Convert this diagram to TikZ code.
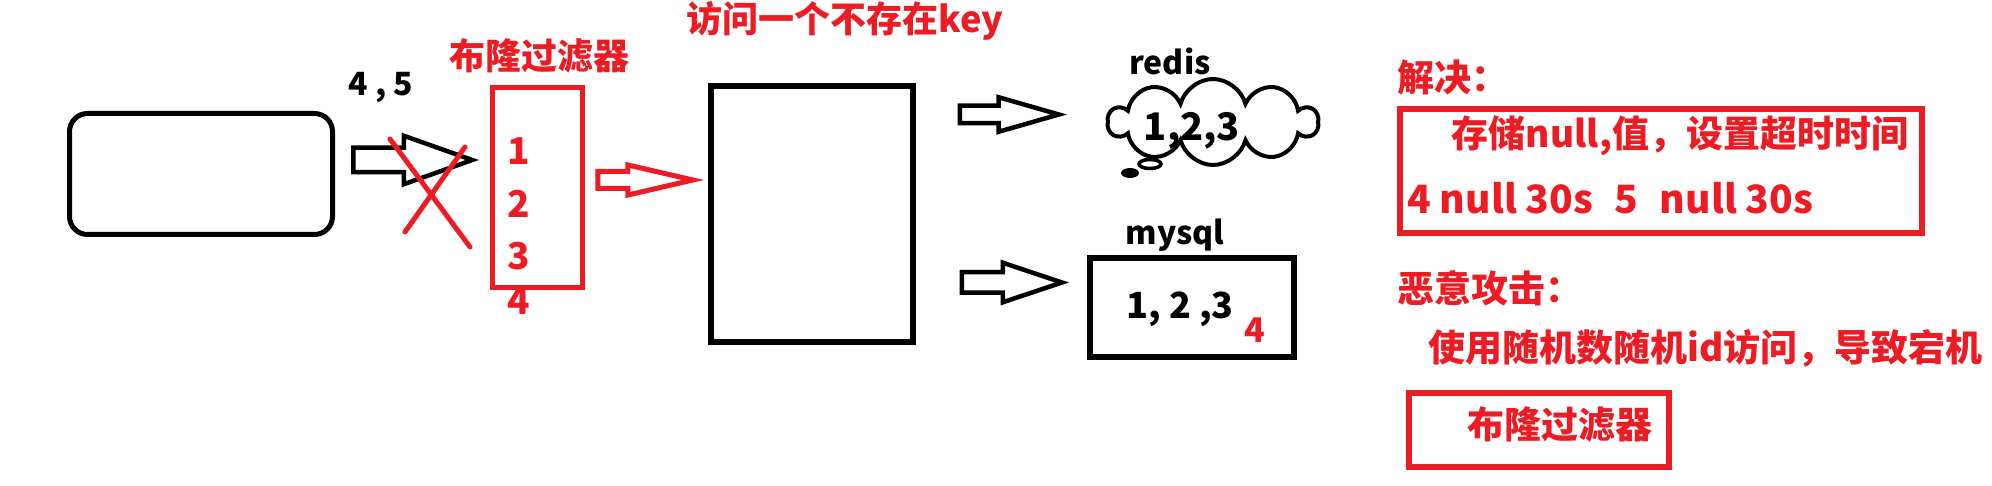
\documentclass[tikz,border=0pt]{standalone}
\usepackage{fontspec}
\setmainfont{Noto Sans CJK SC}
\usetikzlibrary{positioning,shapes.symbols,shapes.arrows,shapes.geometric}
\definecolor{paintred}{RGB}{237,28,36}

\tikzset{
  box/.style={draw,line width=5pt,inner sep=0pt},
  redbox/.style={draw=paintred,line width=6pt,inner sep=0pt},
  blockarrow/.style={single arrow,draw,line width=4.5pt,text height=0pt,text depth=0pt,
    inner xsep=0pt,single arrow head indent=0pt,anchor=tip},
  redtxt/.style={text=paintred,inner sep=0pt,font=\fontsize{37}{40}\selectfont\bfseries},
  blktxt/.style={inner sep=0pt,font=\fontsize{34}{38}\selectfont\bfseries},
}

\begin{document}
\begin{tikzpicture}[x=1pt,y=-1pt]
        \useasboundingbox (0,0) rectangle (1992,486);

        % client and the blocked request
        \node[box,rounded corners=18pt,minimum width=263pt,minimum height=121pt] (client) at (201,174) {};
        \node[blktxt,font=\fontsize{32}{34}\selectfont\bfseries] (keys) at (381,88) {4 , 5};
        \node[blockarrow,minimum height=119pt,inner ysep=10pt,single arrow head extend=12pt,
              single arrow tip angle=39] (req) at (479,160) {};
        \coordinate (xa) at (390,139);
        \coordinate (xb) at (470,247);
        \coordinate (xc) at (465,147);
        \coordinate (xd) at (405,232);
        \draw[paintred,line width=5pt,line cap=round] (xa) -- (xb) (xc) -- (xd);

        % bloom filter
        \node[redbox,line width=5pt,minimum width=90pt,minimum height=200pt] (bloom) at (537.5,187.5) {};
        \node[redtxt,font=\fontsize{36}{38}\selectfont\bfseries] (bloomtitle) at (539,56) {布隆过滤器};
        \node[redtxt] (b1) at (519,151) {1};
        \node[redtxt,below=25pt of b1] (b2) {2};
        \node[redtxt,below=25pt of b2] (b3) {3};
        \node[redtxt,below=17pt of b3] (b4) {4};
        \node[blockarrow,draw=paintred,line width=5pt,minimum height=95pt,inner ysep=6pt,
              single arrow head extend=6.5pt,single arrow tip angle=26] (pass) at (704,180) {};

        % service
        \node[box,line width=5.5pt,minimum width=202pt,minimum height=256pt] (service) at (812,214) {};
        \node[redtxt,font=\fontsize{36}{38}\selectfont\bfseries] (query) at (845,21) {访问一个不存在key};
        \node[blockarrow,minimum height=99pt,inner ysep=6.5pt,single arrow head extend=8.5pt,
              single arrow tip angle=32] (toredis) at (1067,114.5) {};
        \node[blockarrow,minimum height=100pt,inner ysep=8pt,single arrow head extend=9.5pt,
              single arrow tip angle=37] (tomysql) at (1069,282.5) {};

        % redis
        \node[cloud,draw,line width=4pt,cloud puffs=10,cloud ignores aspect,
              minimum width=209pt,minimum height=86pt,inner sep=0pt] (redis) at (1213,122) {};
        \node[draw,ellipse,line width=3.5pt,minimum width=22pt,minimum height=9pt,inner sep=0pt] (bubble) at (1150,164) {};
        \node[fill,ellipse,minimum width=18pt,minimum height=10pt,inner sep=0pt] (dot) at (1130,173) {};
        \node[blktxt,font=\fontsize{32}{34}\selectfont\bfseries] (redislbl) at (1170,61) {redis};
        \node[blktxt,font=\fontsize{38}{40}\selectfont\bfseries] (cached) at (1192,131) {1,2,3};

        % mysql
        \node[box,line width=5.5pt,minimum width=204pt,minimum height=99pt] (mysql) at (1192,307.5) {};
        \node[blktxt,font=\fontsize{32}{34}\selectfont\bfseries] (mysqllbl) at (1175,235) {mysql};
        \node[blktxt,font=\fontsize{36}{38}\selectfont\bfseries] (rows) at (1180,309) {1, 2 ,3};
        \node[redtxt,font=\fontsize{34}{36}\selectfont\bfseries] (row4) at (1255,330) {4};

        % notes
        \node[redtxt,anchor=west] (solve) at (1397,77) {解决：};
        \node[redbox,minimum width=522pt,minimum height=124pt] (fix) at (1661,171) {};
        \node[redtxt] (fix1) at (1680,136) {存储null,值，设置超时时间};
        \node[redtxt,anchor=west,font=\fontsize{39}{40}\selectfont\bfseries] (fix2) at (1407,198)
              {4 null 30s\hspace{0.55em}5\hspace{0.55em}null 30s};
        \node[redtxt,anchor=west] (attack) at (1397,288) {恶意攻击：};
        \node[redtxt,anchor=west] (attack1) at (1428,348) {使用随机数随机id访问，导致宕机};
        \node[redbox,minimum width=260pt,minimum height=74pt] (cure) at (1539,430) {};
        \node[redtxt] (cure1) at (1560,425) {布隆过滤器};
      \end{tikzpicture}
\end{document}
